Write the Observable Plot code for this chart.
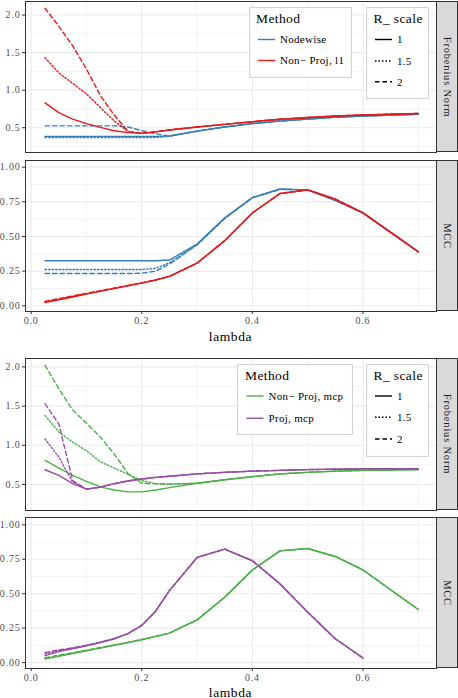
<!DOCTYPE html>
<html><head><meta charset="utf-8">
<script src="https://cdn.jsdelivr.net/npm/d3@7"></script>
<script src="https://cdn.jsdelivr.net/npm/@observablehq/plot@0.6"></script>
<style>
body{margin:0;background:#fff;}
#root{position:relative;width:458px;height:698px;overflow:hidden;font-family:"Liberation Serif","DejaVu Serif",serif;}
.panel{position:absolute;left:0;}
.strip{position:absolute;background:#d9d9d9;border:1px solid #333;box-sizing:border-box;}
.strip span{position:absolute;left:50%;top:50%;transform:translate(-50%,-50%) rotate(90deg);white-space:nowrap;font-size:10.5px;letter-spacing:0.8px;color:#1a1a1a;}
.xlab{position:absolute;font-size:13.5px;letter-spacing:0.6px;color:#000;transform:translate(-50%,-50%);white-space:nowrap;}
.legend{position:absolute;}
</style></head><body><div id="root"></div>
<script>
// ---------- data ----------
const lambda = [0.025,0.05,0.075,0.1,0.125,0.15,0.175,0.2,0.225,0.25,0.3,0.35,0.4,0.45,0.5,0.55,0.6,0.7];
const rScales = ["1","1.5","2"];
const xTicks = [0,0.2,0.4,0.6];
const xMinor = [0.1,0.3,0.5,0.7];
const frobTicks = [0.5,1,1.5,2];
const frobMinor = [0.25,0.75,1.25,1.75];
const mccTicks = [0,0.25,0.5,0.75,1];
const mccMinor = [0.125,0.375,0.625,0.875];

const methodsTop = ["Nodewise","Non\u2212 Proj, l1"];
const colorsTop = ["#377EB8","#E41A1C"];
const methodsBottom = ["Non\u2212 Proj, mcp","Proj, mcp"];
const colorsBottom = ["#4DAF4A","#984EA3"];
const panelLabels = ["Frobenius Norm","MCC"];

// top figure: Frobenius norm
const nodewiseFrob1  = [0.385,0.385,0.385,0.385,0.385,0.385,0.385,0.385,0.385,0.39,0.455,0.51,0.555,0.59,0.615,0.64,0.655,0.68];
const nodewiseFrob15 = [0.37,0.37,0.37,0.37,0.37,0.37,0.37,0.37,0.37,0.385,0.455,0.51,0.555,0.59,0.615,0.64,0.655,0.68];
const nodewiseFrob2  = [0.525,0.525,0.525,0.525,0.525,0.525,0.51,0.46,0.42,0.39,0.455,0.51,0.555,0.59,0.615,0.64,0.655,0.68];
const l1Frob1  = [0.83,0.70,0.615,0.555,0.505,0.46,0.435,0.425,0.445,0.47,0.51,0.545,0.58,0.613,0.635,0.655,0.67,0.69];
const l1Frob15 = [1.43,1.23,1.09,0.95,0.77,0.59,0.45,0.425,0.445,0.47,0.51,0.545,0.58,0.613,0.635,0.655,0.67,0.69];
const l1Frob2  = [2.09,1.85,1.59,1.28,0.93,0.67,0.45,0.425,0.445,0.47,0.51,0.545,0.58,0.613,0.635,0.655,0.67,0.69];
// top figure: MCC
const nodewiseMcc1  = [0.325,0.325,0.325,0.325,0.325,0.325,0.325,0.325,0.325,0.33,0.445,0.635,0.78,0.843,0.836,0.76,0.67,0.39];
const nodewiseMcc15 = [0.262,0.262,0.262,0.262,0.262,0.262,0.262,0.262,0.27,0.31,0.44,0.63,0.78,0.84,0.836,0.76,0.67,0.39];
const nodewiseMcc2  = [0.233,0.233,0.233,0.233,0.233,0.233,0.233,0.235,0.25,0.30,0.44,0.63,0.78,0.84,0.836,0.76,0.67,0.39];
const l1Mcc1  = [0.024,0.044,0.064,0.084,0.104,0.124,0.144,0.164,0.186,0.212,0.308,0.47,0.67,0.81,0.836,0.77,0.67,0.39];
const l1Mcc15 = [0.028,0.048,0.068,0.088,0.107,0.127,0.146,0.165,0.186,0.212,0.308,0.47,0.67,0.81,0.836,0.77,0.67,0.39];
const l1Mcc2  = [0.032,0.052,0.071,0.090,0.109,0.128,0.147,0.166,0.186,0.212,0.308,0.47,0.67,0.81,0.836,0.77,0.67,0.39];
// bottom figure: Frobenius norm
const npMcpFrob1  = [0.807,0.71,0.615,0.54,0.47,0.43,0.405,0.405,0.43,0.46,0.515,0.56,0.60,0.635,0.655,0.67,0.68,0.69];
const npMcpFrob15 = [1.38,1.17,1.04,0.93,0.79,0.71,0.63,0.55,0.51,0.505,0.515,0.56,0.60,0.635,0.655,0.67,0.68,0.69];
const npMcpFrob2  = [2.02,1.72,1.45,1.28,1.105,0.89,0.64,0.515,0.51,0.505,0.515,0.56,0.60,0.635,0.655,0.67,0.68,0.69];
const pMcpFrob1  = [0.688,0.615,0.51,0.44,0.466,0.51,0.545,0.57,0.59,0.605,0.635,0.655,0.67,0.68,0.69,0.695,0.70,0.70];
const pMcpFrob15 = [1.08,0.85,0.53,0.44,0.466,0.51,0.545,0.57,0.59,0.605,0.635,0.655,0.67,0.68,0.69,0.695,0.70,0.70];
const pMcpFrob2  = [1.53,1.27,0.55,0.44,0.466,0.51,0.545,0.57,0.59,0.605,0.635,0.655,0.67,0.68,0.69,0.695,0.70,0.70];
// bottom figure: MCC
const npMcpMcc1  = [0.025,0.045,0.065,0.085,0.105,0.125,0.145,0.166,0.19,0.214,0.31,0.474,0.672,0.811,0.828,0.77,0.672,0.385];
const npMcpMcc15 = [0.030,0.050,0.069,0.088,0.107,0.127,0.146,0.167,0.19,0.214,0.31,0.474,0.672,0.811,0.828,0.77,0.672,0.385];
const npMcpMcc2  = [0.035,0.054,0.072,0.090,0.109,0.128,0.147,0.168,0.19,0.214,0.31,0.474,0.672,0.811,0.828,0.77,0.672,0.385];
const pMcpMcc1  = [0.050,0.080,0.100,0.122,0.146,0.173,0.21,0.27,0.373,0.522,0.763,0.823,0.739,0.571,0.366,0.173,0.033,null];
const pMcpMcc15 = [0.062,0.088,0.104,0.125,0.147,0.173,0.21,0.27,0.373,0.522,0.763,0.823,0.739,0.571,0.366,0.173,0.033,null];
const pMcpMcc2  = [0.072,0.092,0.107,0.126,0.148,0.173,0.21,0.27,0.373,0.522,0.763,0.823,0.739,0.571,0.366,0.173,0.033,null];

// ---------- helpers ----------
const dashes = {"1": null, "1.5": "1.5,2", "2": "4.5,3"};
const xDomain = [-0.0103, 0.733];
const root = document.getElementById("root");

function toRows(method, scale, values) {
  return lambda.map((l, i) => ({lambda: l, value: values[i], method, scale}));
}

function panel({top, height, mb, yDomain, yTicks, yMinor, yFmt, methods, colors, series, showX, label}) {
  const marks = [
    Plot.gridX(xMinor, {stroke: "#ebebeb", strokeOpacity: 1, strokeWidth: 0.6}),
    Plot.gridY(yMinor, {stroke: "#ebebeb", strokeOpacity: 1, strokeWidth: 0.6}),
    Plot.gridX(xTicks, {stroke: "#ebebeb", strokeOpacity: 1, strokeWidth: 1.1}),
    Plot.gridY(yTicks, {stroke: "#ebebeb", strokeOpacity: 1, strokeWidth: 1.1})
  ];
  methods.forEach((m, mi) => {
    rScales.forEach((s, si) => {
      marks.push(Plot.line(toRows(m, s, series[mi][si]), {
        x: "lambda", y: "value", stroke: colors[mi], strokeWidth: 1.4,
        strokeDasharray: dashes[s]
      }));
    });
  });
  marks.push(Plot.frame({stroke: "#333", strokeWidth: 1}));
  marks.push(Plot.axisY(yTicks, {tickSize: 3, tickPadding: 2, tickFormat: d3.format(yFmt),
    fontSize: 10, fill: "#4d4d4d", stroke: "#333", label: null}));
  if (showX) marks.push(Plot.axisX(xTicks, {tickSize: 3, tickPadding: 2, tickFormat: d3.format(".1f"),
    fontSize: 10, fill: "#4d4d4d", stroke: "#333", label: null}));
  const chart = Plot.plot({
    width: 458, height, marginLeft: 25, marginRight: 22, marginTop: 1, marginBottom: mb,
    x: {domain: xDomain, ...(showX ? {} : {axis: null})},
    y: {domain: yDomain},
    style: {fontFamily: "'Liberation Serif', serif", letterSpacing: "0.8px", background: "transparent", overflow: "visible"},
    marks
  });
  const wrap = document.createElement("div");
  wrap.className = "panel";
  wrap.style.top = top + "px";
  wrap.appendChild(chart);
  root.appendChild(wrap);
  // facet strip
  const st = document.createElement("div");
  st.className = "strip";
  st.style.left = "436px"; st.style.width = "22px";
  st.style.top = (top + 1) + "px"; st.style.height = (height - 1 - mb) + "px";
  const sp = document.createElement("span"); sp.textContent = label;
  st.appendChild(sp); root.appendChild(st);
}

function legendBox({x, y, w, h, title, items, titleX, itemsY, lineX0, lineX1, textX}) {
  const svg = d3.select(root).append("svg").attr("class", "legend")
    .style("left", x + "px").style("top", y + "px")
    .attr("width", w).attr("height", h)
    .style("font-family", "'Liberation Serif', serif");
  svg.append("rect").attr("x", 0.5).attr("y", 0.5).attr("width", w - 1).attr("height", h - 1)
    .attr("fill", "#fff").attr("stroke", "#d4d4d4").attr("stroke-width", 1.2);
  svg.append("text").attr("x", titleX).attr("y", 16).attr("font-size", 13.5)
    .attr("letter-spacing", "0.4px").attr("fill", "#000").text(title);
  items.forEach((it, i) => {
    const yy = itemsY[i];
    svg.append("line").attr("x1", lineX0).attr("x2", lineX1).attr("y1", yy).attr("y2", yy)
      .attr("stroke", it.color).attr("stroke-width", 1.4)
      .attr("stroke-dasharray", it.dash || null);
    svg.append("text").attr("x", textX).attr("y", yy).attr("dy", "0.35em")
      .attr("font-size", 11).attr("letter-spacing", "0.3px").attr("fill", "#000").text(it.label);
  });
}

function xLabel(y) {
  const d = document.createElement("div");
  d.className = "xlab"; d.style.left = "230.5px"; d.style.top = y + "px";
  d.textContent = "lambda"; root.appendChild(d);
}

// ---------- top figure ----------
panel({top: 0, height: 153, mb: 1, yDomain: [0.17, 2.18], yTicks: frobTicks, yMinor: frobMinor, yFmt: ".1f",
  methods: methodsTop, colors: colorsTop, showX: false, label: panelLabels[0],
  series: [[nodewiseFrob1, nodewiseFrob15, nodewiseFrob2], [l1Frob1, l1Frob15, l1Frob2]]});
panel({top: 159, height: 172, mb: 20, yDomain: [-0.041, 1.048], yTicks: mccTicks, yMinor: mccMinor, yFmt: ".2f",
  methods: methodsTop, colors: colorsTop, showX: true, label: panelLabels[1],
  series: [[nodewiseMcc1, nodewiseMcc15, nodewiseMcc2], [l1Mcc1, l1Mcc15, l1Mcc2]]});
xLabel(337);

// ---------- bottom figure ----------
panel({top: 357, height: 154, mb: 1, yDomain: [0.168, 2.107], yTicks: frobTicks, yMinor: frobMinor, yFmt: ".1f",
  methods: methodsBottom, colors: colorsBottom, showX: false, label: panelLabels[0],
  series: [[npMcpFrob1, npMcpFrob15, npMcpFrob2], [pMcpFrob1, pMcpFrob15, pMcpFrob2]]});
panel({top: 516, height: 172, mb: 20, yDomain: [-0.043, 1.053], yTicks: mccTicks, yMinor: mccMinor, yFmt: ".2f",
  methods: methodsBottom, colors: colorsBottom, showX: true, label: panelLabels[1],
  series: [[npMcpMcc1, npMcpMcc15, npMcpMcc2], [pMcpMcc1, pMcpMcc15, pMcpMcc2]]});
xLabel(693);

// ---------- legends ----------
const scaleItems = rScales.map(s => ({label: s, color: "#000", dash: dashes[s]}));
legendBox({x: 249, y: 7, w: 103, h: 71, title: "Method", titleX: 7,
  items: methodsTop.map((m, i) => ({label: m, color: colorsTop[i]})),
  itemsY: [32.5, 53.5], lineX0: 9, lineX1: 26, textX: 31});
legendBox({x: 365.5, y: 7, w: 63, h: 92, title: "R_ scale", titleX: 7.5,
  items: scaleItems, itemsY: [32.5, 54, 74.7], lineX0: 9, lineX1: 26, textX: 31});
legendBox({x: 237, y: 364, w: 116, h: 71, title: "Method", titleX: 8,
  items: methodsBottom.map((m, i) => ({label: m, color: colorsBottom[i]})),
  itemsY: [32, 54.3], lineX0: 9.5, lineX1: 26.5, textX: 31.5});
legendBox({x: 365.5, y: 364, w: 63, h: 93, title: "R_ scale", titleX: 7.5,
  items: scaleItems, itemsY: [32, 53.3, 75], lineX0: 9, lineX1: 26, textX: 31});
</script></body></html>
